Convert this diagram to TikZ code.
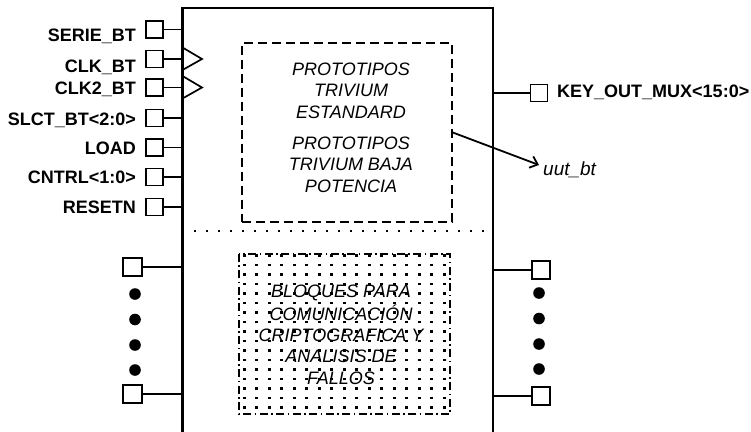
\documentclass[tikz,border=0pt]{standalone}
\usepackage{fontspec}
\setmainfont{Liberation Sans}
\usetikzlibrary{arrows.meta}
\tikzset{
  pin/.style={draw, line width=1.8pt, fill=white, minimum size=17pt, inner sep=0pt},
  pinline/.style={line width=1.8pt},
  lbl/.style={font=\fontsize{18}{21}\selectfont\bfseries, inner sep=0pt},
  itx/.style={font=\fontsize{18}{21}\selectfont\itshape, inner sep=0pt, anchor=base},
  body/.style={line width=2.5pt},
  clk/.style={line width=1.7pt},
  bigdot/.style={fill=black},
}
\begin{document}
\begin{tikzpicture}[x=1pt,y=-1pt]
\useasboundingbox (0,0) rectangle (751,431);
% main body (open at the bottom)
\coordinate (BL) at (182.5,433);
\coordinate (TL) at (182.5,8);
\coordinate (TR) at (492.8,8);
\coordinate (BR) at (492.8,433);
\draw[body] (BL) -- (TL) -- (TR) -- (BR);

% left pins
\foreach \n/\y/\ly/\t in {a/29.5/41.7/SERIE\_BT, b/59/72.7/CLK\_BT, c/87.5/94.3/CLK2\_BT, d/118/125/SLCT\_BT<2:0>, e/147.5/154/LOAD, f/177/183.3/CNTRL<1:0>, g/207/213.3/RESETN}{
  \node[pin] (p\n) at (154.5,\y) {};
  \coordinate (q\n) at (182.5,\y);
  \draw[pinline] (p\n.east) -- (q\n);
  \node[lbl, anchor=base east] (l\n) at (136,\ly) {\t};
}
% clock triangles
\draw[clk] (182.5,47.5) -- (qb -| 202,0) -- (182.5,70);
\draw[clk] (182.5,76) -- (qc -| 202,0) -- (182.5,98.5);

% right output pin
\node[pin] (pk) at (539,93) {};
\coordinate (qk) at (492.8,93);
\draw[pinline] (qk) -- (pk.west);
\node[lbl, anchor=base west] (lk) at (557,97.3) {KEY\_OUT\_MUX<15:0>};

% upper dashed block
\node[draw, line width=2pt, dash pattern=on 9pt off 5pt, minimum width=210pt, minimum height=179pt, inner sep=0pt] (up) at (346.8,132) {};
\node[itx] (t1) at (351,75.7) {PROTOTIPOS};
\node[itx] (t2) at (351,96.7) {TRIVIUM};
\node[itx] (t3) at (351,118) {ESTANDARD};
\node[itx] (t4) at (351,149) {PROTOTIPOS};
\node[itx] (t5) at (351,170) {TRIVIUM BAJA};
\node[itx] (t6) at (351,192) {POTENCIA};

% uut_bt pointer
\coordinate (ua) at (up.east |- 0,132.5);
\node[font=\fontsize{19}{22}\selectfont\itshape, inner sep=0pt, anchor=base west] (uut) at (543,175) {uut\_bt};
\coordinate (ub) at (539,165);
\draw[line width=1.8pt, -{Straight Barb[length=7pt,width=12pt,line width=1.8pt]}] (ua) -- (ub);

% dotted separator
\coordinate (s1) at (194,231);
\coordinate (s2) at (488,231);
\draw[line width=1.8pt, dash pattern=on 1.8pt off 10.2pt] (s1) -- (s2);

% lower dotted block
\node[minimum width=211pt, minimum height=160pt, inner sep=0pt] (low) at (344.5,334) {};
\foreach \xx in {244.2,256.7,...,448}{
  \foreach \yy in {255.5,265,...,412}{
    \fill (\xx-1.3,\yy-1.3) rectangle ++(2.6,2.6);
  }
}
\draw[line width=1.8pt, dash pattern=on 8pt off 3.5pt on 1.5pt off 3.5pt] (low.north west) rectangle (low.south east);
\node[itx] (b1) at (341,297.3) {BLOQUES PARA};
\node[itx] (b2) at (341,320) {COMUNICACIÓN};
\node[itx] (b3) at (341,341.7) {CRIPTOGRAFICA Y};
\node[itx] (b4) at (341,362.7) {ANALISIS DE};
\node[itx] (b5) at (341,384) {FALLOS};

% lower left pins
\node[pin, minimum size=18.5pt] (ll1) at (132.5,267) {};
\node[pin, minimum size=18.5pt] (ll2) at (132.5,394) {};
\draw[pinline] (ll1.east) -- (ll1.east -| BL);
\draw[pinline] (ll2.east) -- (ll2.east -| BL);
\foreach \yy [count=\i] in {294,319.5,345,370}{
  \fill[bigdot] (135,\yy) circle (5.8pt) coordinate (ld\i);
}
% lower right pins
\node[pin, minimum size=18.5pt] (rl1) at (541,270) {};
\node[pin, minimum size=18.5pt] (rl2) at (541,396) {};
\draw[pinline] (rl1.west) -- (rl1.west -| BR);
\draw[pinline] (rl2.west) -- (rl2.west -| BR);
\foreach \yy [count=\i] in {293,318.5,344,369}{
  \fill[bigdot] (539,\yy) circle (5.8pt) coordinate (rd\i);
}
\end{tikzpicture}
\end{document}
